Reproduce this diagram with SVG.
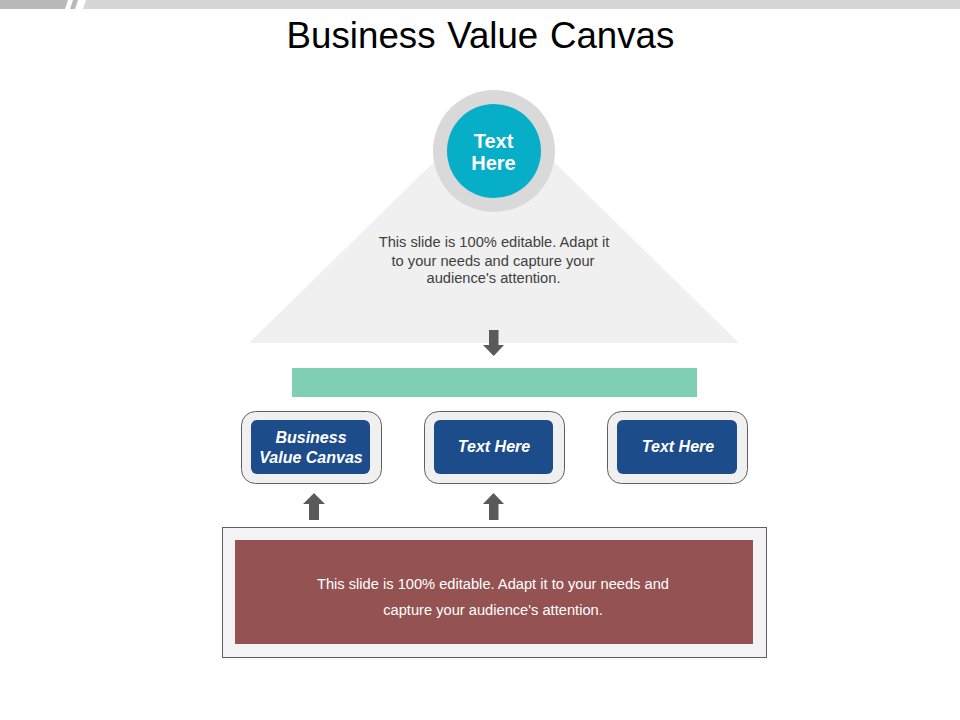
<svg xmlns="http://www.w3.org/2000/svg" width="960" height="720" viewBox="0 0 960 720">
<style>
text{font-family:"Liberation Sans",Arial,sans-serif;text-anchor:middle}
.outer{fill:#f0f0f1;stroke:#5f5f5f;stroke-width:1}
.inner{fill:#1d4c8b}
.lbl{fill:#fff;font-size:16px;font-weight:bold;font-style:italic}
.arr{fill:#5a5a5a}
.body{font-size:14.67px;fill:#404040}
.body2{font-size:14.67px;fill:#fff}
</style>
<rect width="960" height="720" fill="#fff"/>
<g id="header">
<polygon points="0,0 68,0 65,9 0,9" fill="#b9b9b9"/>
<polygon points="73,0 78,0 75,9 70,9" fill="#b9b9b9"/>
<polygon points="86,0 960,0 960,9 83,9" fill="#d6d6d6"/>
</g>
<text x="480.500" y="48" font-size="36.700" fill="#000" word-spacing="1.500">Business Value Canvas</text>
<g id="triangle">
<polygon points="494,103 739,343 249,343" fill="#f0f0f0"/>
<text class="body"><tspan x="494" y="247">This slide is 100% editable. Adapt it</tspan><tspan x="493" y="266">to your needs and capture your</tspan><tspan x="493.500" y="283">audience's attention.</tspan></text>
</g>
<g id="circle">
<circle cx="494" cy="151" r="61" fill="#d9d9d9"/>
<circle cx="494" cy="151" r="47" fill="#06aec8"/>
<text fill="#fff" font-size="20" font-weight="bold"><tspan x="493.500" y="148">Text</tspan><tspan x="493.500" y="170">Here</tspan></text>
</g>
<rect id="bar" x="292" y="368" width="405" height="29" fill="#7fcfb5"/>
<g id="node1">
<rect class="outer" x="241.500" y="411.500" width="140" height="72" rx="14"/>
<rect class="inner" x="251" y="420" width="119" height="54" rx="6"/>
<text class="lbl"><tspan x="311" y="443">Business</tspan><tspan x="311" y="463">Value Canvas</tspan></text>
</g>
<g id="node2">
<rect class="outer" x="424.500" y="411.500" width="140" height="72" rx="14"/>
<rect class="inner" x="434" y="420" width="119" height="54" rx="6"/>
<text class="lbl" x="494" y="451.500">Text Here</text>
</g>
<g id="node3">
<rect class="outer" x="607.500" y="411.500" width="140" height="72" rx="14"/>
<rect class="inner" x="617" y="420" width="120" height="54" rx="6"/>
<text class="lbl" x="678" y="451.500">Text Here</text>
</g>
<g id="connectors">
<polygon class="arr" points="489,330 498.500,330 498.500,345 504,345 493.700,356 483,345 489,345"/>
<polygon class="arr" points="309,520 319,520 319,504 325,504 314,493 303,504 309,504"/>
<polygon class="arr" points="489,520 498.500,520 498.500,504 504,504 493.500,493 483,504 489,504"/>
</g>
<g id="panel">
<rect x="222.500" y="527.500" width="544" height="130" fill="#f3f2f4" stroke="#5f5f5f"/>
<rect x="235" y="540" width="518" height="104" fill="#945252"/>
<text class="body2"><tspan x="493" y="589">This slide is 100% editable. Adapt it to your needs and</tspan><tspan x="493" y="615">capture your audience's attention.</tspan></text>
</g>
</svg>
